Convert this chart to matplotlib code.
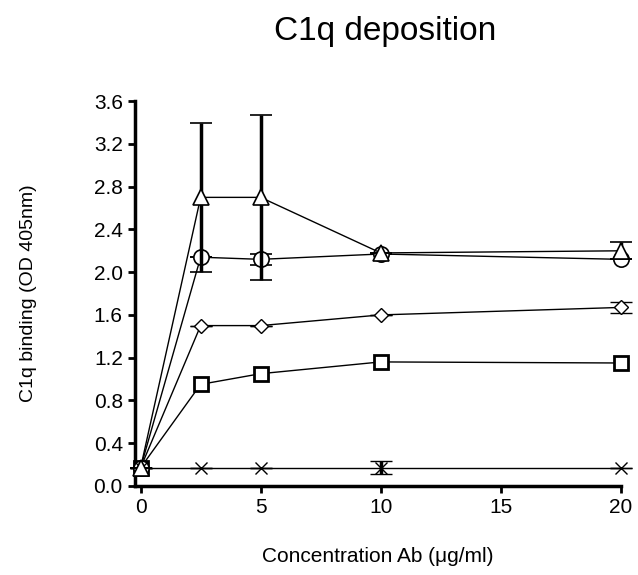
import matplotlib.pyplot as plt

plt.rcParams['font.family'] = ['Liberation Sans', 'DejaVu Sans']

# concentration (ug/ml)
conc = [0, 2.5, 5, 10, 20]

# C1q binding, OD 405nm
tri = [0.17, 2.70, 2.70, 2.18, 2.20]
tri_err = [0, 0.70, 0.77, 0, 0.08]
circ = [0.17, 2.14, 2.12, 2.17, 2.12]
circ_err = [0, 0, 0.05, 0, 0]
diam = [0.17, 1.50, 1.50, 1.60, 1.67]
diam_err = [0, 0, 0, 0, 0.05]
sq = [0.17, 0.95, 1.05, 1.16, 1.15]
cross = [0.17, 0.17, 0.17, 0.17, 0.17]
cross_err = [0, 0, 0, 0.06, 0]

yticks = [0.0, 0.4, 0.8, 1.2, 1.6, 2.0, 2.4, 2.8, 3.2, 3.6]
xticks = [0, 5, 10, 15, 20]

fig = plt.figure(figsize=(6.38, 5.75), dpi=100)
ax = fig.add_axes([0.211, 0.155, 0.762, 0.669])

eb = dict(ecolor='black', elinewidth=2.5, capsize=8, capthick=2.5)
ln = dict(color='black', lw=1, mfc='white', mec='black', clip_on=False)

ax.errorbar(conc, sq, marker='s', ms=10, mew=2, zorder=3, **ln)
ax.errorbar(conc, diam, yerr=diam_err, marker='D', ms=7, mew=1, zorder=3, **ln, **eb)
ax.errorbar(conc, circ, yerr=circ_err, marker='o', ms=11, mew=1.2, zorder=3, **ln, **eb)
ax.errorbar(conc, tri, yerr=tri_err, marker='^', ms=12, mew=1.2, zorder=4, **ln, **eb)
ax.errorbar(conc, cross, yerr=cross_err, marker='x', ms=9, mew=1, zorder=3, **ln, **eb)

ax.set_xlim(-0.25, 20)
ax.set_ylim(0, 3.6)
ax.set_xticks(xticks)
ax.set_yticks(yticks)
ax.set_yticklabels(['%.1f' % v for v in yticks])

for s in ['top', 'right']:
    ax.spines[s].set_visible(False)
for s in ['left', 'bottom']:
    ax.spines[s].set_linewidth(2.5)
ax.tick_params(width=2, length=5, labelsize=15)

ax.set_ylabel('C1q binding (OD 405nm)', fontsize=14, labelpad=41)
ax.set_xlabel('Concentration Ab (\u03bcg/ml)', fontsize=15, labelpad=22)
fig.text(0.603, 0.945, 'C1q deposition', ha='center', va='center', fontsize=24)

fig.savefig('out.png', dpi=100)
